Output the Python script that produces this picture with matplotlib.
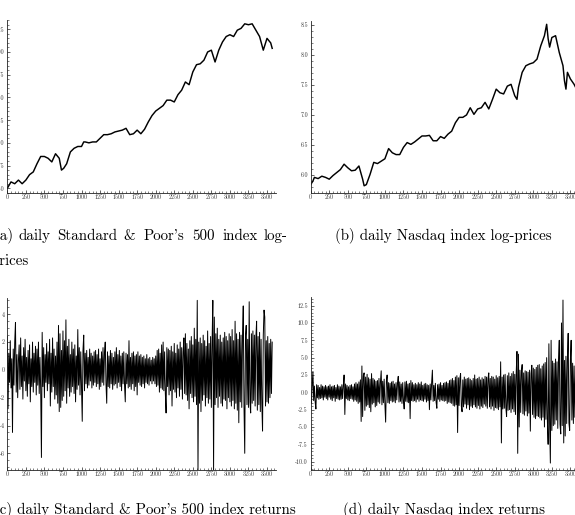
import numpy as np
import matplotlib
matplotlib.use("Agg")
import matplotlib.pyplot as plt
from matplotlib.ticker import FixedLocator, FixedFormatter, MultipleLocator

# ---------------- data ----------------
sp_days = [0, 50, 100, 150, 200, 250, 300, 350, 400, 450, 500, 550, 600, 650, 700,
           730, 760, 800, 850, 900, 950, 1000, 1030,
           1050, 1100, 1150, 1200, 1250, 1300, 1350, 1400, 1450, 1500, 1550, 1600, 1650,
           1700, 1750, 1800, 1850, 1900, 1950, 2000, 2050, 2100, 2150, 2200, 2250, 2300,
           2350, 2400, 2450, 2500, 2550, 2600, 2650, 2700, 2750, 2800, 2850, 2900, 2950,
           3000, 3050, 3100, 3150, 3200, 3250, 3300, 3350, 3400, 3450, 3500, 3550, 3570]
sp_logprice = [5.50, 5.57, 5.55, 5.59, 5.55, 5.59, 5.65, 5.68, 5.77, 5.85, 5.85, 5.83, 5.79, 5.88, 5.83,
               5.70, 5.72, 5.77, 5.90, 5.94, 5.96, 5.96, 6.01,
               6.01, 6.00, 6.01, 6.01, 6.05, 6.09, 6.09, 6.10, 6.12, 6.13, 6.14, 6.16, 6.09,
               6.10, 6.14, 6.10, 6.15, 6.23, 6.30, 6.35, 6.38, 6.41, 6.47, 6.47, 6.45, 6.53,
               6.58, 6.67, 6.64, 6.78, 6.86, 6.87, 6.91, 7.00, 7.02, 6.89, 7.02, 7.11, 7.17,
               7.19, 7.17, 7.24, 7.26, 7.31, 7.30, 7.31, 7.24, 7.17, 7.02, 7.15, 7.10, 7.04]

nq_days = [0, 30, 50, 100, 150, 200, 250, 300, 350, 400, 450, 500, 550, 600, 650, 700,
           720, 750, 800, 850, 900, 950, 1000, 1050, 1100, 1150, 1200, 1250, 1300, 1350,
           1400, 1450, 1500, 1550, 1600, 1650, 1700, 1750, 1800, 1850, 1900, 1950, 2000,
           2050, 2100, 2150, 2200, 2250, 2300, 2350, 2400, 2450, 2500, 2550, 2600, 2650,
           2700, 2750, 2780, 2800, 2850, 2900, 2950, 3000, 3050, 3100, 3150, 3180, 3200,
           3220, 3250, 3300, 3350, 3400, 3420, 3440, 3460, 3500, 3550, 3570]
nq_logprice = [5.84, 5.90, 5.96, 5.94, 5.98, 5.96, 5.93, 5.99, 6.04, 6.09, 6.18, 6.12, 6.07, 6.08, 6.15, 5.93,
               5.82, 5.84, 6.01, 6.21, 6.19, 6.23, 6.27, 6.44, 6.37, 6.34, 6.34, 6.46, 6.54, 6.51,
               6.55, 6.60, 6.65, 6.65, 6.66, 6.57, 6.57, 6.64, 6.61, 6.68, 6.73, 6.87, 6.96,
               6.96, 7.00, 7.12, 7.01, 7.10, 7.12, 7.21, 7.10, 7.26, 7.43, 7.37, 7.35, 7.48,
               7.51, 7.32, 7.26, 7.46, 7.71, 7.82, 7.85, 7.87, 7.93, 8.15, 8.32, 8.51, 8.27,
               8.13, 8.29, 8.32, 8.04, 7.82, 7.57, 7.43, 7.71, 7.60, 7.51, 7.46]

# returns sampled every 10 trading days (day = 10 * index), 20 values per row
return_step = 10
sp_returns = [
    2.4, -2.8, 1.2, -0.9, 2.1, -1.3, 0.8, -4.5, 1.5, -1.1, 2.0, 3.4, -1.6, 1.1, -2.0, 0.7, 1.8, -1.4, 2.3, -1.2,
    1.0, -2.1, 1.6, -0.8, 2.2, -1.5, 0.9, -1.9, 1.4, -1.0, 1.8, -2.3, 0.8, -1.2, 2.0, -1.6, 1.2, -0.9, 1.7, -1.8,
    1.5, -1.1, 2.0, -1.7, 0.9, -1.4, -6.3, 2.7, -1.2, 1.6, -2.0, 1.1, -0.9, 1.9, -1.5, 1.3, -1.0, 2.2, -2.6, 1.2,
    -1.6, 2.3, -1.2, 1.5, -2.1, 1.0, -1.8, 2.0, -2.4, 3.2, -3.0, 2.6, -2.7, 1.4, -2.2, 2.8, -1.9, 2.1, -1.5, 3.6,
    -2.4, 1.7, -1.3, 2.2, -1.9, 1.1, -1.6, 2.0, -1.2, 1.5, -1.7, 1.8, -2.3, 1.0, -1.4, 2.9, -1.1, 1.6, -1.8, 1.3,
    -1.2, -3.7, 1.4, 2.5, -1.5, 1.2, -1.0, 1.4, -1.3, 0.9, -1.1, 1.5, -0.8, 1.2, -1.3, 1.0, -1.1, 1.3, -0.9, 1.4,
    -1.2, 1.1, -1.0, 1.5, -1.4, 0.8, -1.2, 1.3, -0.9, 1.6, -1.1, 1.2, 2.0, -1.0, -2.4, 1.3, -1.2, 1.0, -1.3, 1.4,
    -1.0, 1.2, -1.4, 0.9, -1.1, 1.3, -1.0, 1.6, -1.3, 1.1, -0.9, 1.4, -1.2, 1.0, -1.5, 1.2, -1.0, 1.3, -1.1, -2.3,
    1.2, -1.0, 1.1, -1.3, 2.1, -1.2, 0.9, -1.4, 1.2, -1.0, 1.3, -1.5, 1.0, -1.2, 1.1, -1.8, 1.3, -0.9, 1.0, -1.1,
    1.1, -1.2, 0.9, -1.0, 1.0, -1.3, 0.8, -0.9, 1.1, -1.0, 0.8, -1.1, 0.9, -0.8, 0.7, -1.0, 0.9, -0.8, 0.8, -1.0,
    1.0, -1.2, 1.4, -1.1, 1.5, -1.6, 1.2, -1.3, 1.8, -1.4, 2.0, -1.5, 1.3, -1.7, -3.1, 1.6, -1.2, 1.5, -1.8, 1.4,
    -1.5, 1.7, -2.6, 1.3, -1.4, 1.9, -1.6, 1.2, -2.0, 1.8, -1.3, 1.5, -1.9, 2.0, -1.4, 1.6, -2.1, 1.3, 2.3, -1.7,
    2.6, -1.8, 1.9, -2.2, 1.5, -2.8, 2.1, -1.7, 2.4, -2.0, 1.8, -2.3, 3.0, -1.9, 2.2, -2.5, 5.0, -7.2, 2.0, -2.4,
    2.3, -3.0, 1.9, -2.2, 2.5, -1.8, 2.1, -2.6, 1.7, -2.0, 2.8, -2.4, 1.9, -2.1, 2.4, -2.7, 2.0, 5.0, -7.2, 3.8,
    -2.5, 2.6, -2.0, 3.0, -2.7, 2.2, -1.9, 2.5, -2.4, 2.0, -2.6, 2.3, -2.1, 2.7, -2.2, 2.4, -2.8, 2.1, -2.0, 2.6,
    -2.3, 2.4, -2.6, 2.9, -2.2, 2.1, -2.8, 3.5, -2.4, 2.6, -2.9, 2.2, -3.8, 2.7, -2.3, 2.5, -2.7, 2.4, 4.6, -2.6,
    -6.0, 2.4, 3.2, -2.5, 2.2, -2.7, 4.9, -2.3, -3.1, 2.6, -2.4, 2.8, -2.2, 2.5, -2.6, 2.3, 3.5, -2.9, 2.4, -2.5,
    2.7, -3.0, 2.2, -2.4, -4.4, 2.5, 4.3, 3.8, -2.6, 2.1, -2.3, 2.4, -2.4, 1.9, -2.0, 2.2, -1.7, 2.0]
nq_returns = [
    0.8, -1.6, 1.0, 3.0, -1.2, 0.9, -1.4, -2.4, 1.1, -0.8, 1.0, -1.0, 0.7, -0.9, 1.1, -0.8, 0.9, -1.1, 0.8, -0.7,
    1.0, -0.9, 0.8, -1.1, 0.9, -0.7, 1.1, -1.0, 0.8, -1.2, 0.9, -0.8, 1.0, -1.3, 0.7, -0.9, 1.1, -1.0, 0.9, -1.1,
    0.8, -1.0, 1.1, -0.9, 1.0, 2.5, -3.2, 1.2, -0.9, 1.0, -1.1, 0.8, -1.2, 1.0, -0.9, 1.1, -1.0, 0.8, -1.3, 1.2,
    -1.1, 1.4, -1.3, 1.2, -1.6, 1.5, -1.4, 1.8, -4.2, 3.8, -3.5, 2.4, 2.8, -2.6, 2.2, -2.0, 2.6, -1.8, 2.1, -2.2,
    1.9, -2.8, 2.7, -1.7, 2.0, -1.5, 1.8, -2.1, 1.6, -1.9, 1.7, -1.4, 2.0, -1.6, 1.5, 3.1, -1.8, 1.6, -1.5, 1.9,
    -1.7, -4.3, 1.6, 2.5, -1.5, 1.4, -1.6, 1.3, -1.2, 1.5, -1.4, 1.6, -1.3, 1.2, -1.5, 1.4, -1.1, 1.3, 2.3, -1.4,
    1.5, -1.3, 1.2, -1.6, 1.4, -1.2, -2.4, 1.5, -1.3, 1.6, -1.4, 1.2, -1.5, 1.3, -3.8, 1.7, -1.2, 1.4, -1.3, 1.1,
    -1.2, 1.3, -1.4, 1.1, -1.0, 1.4, -1.3, 1.2, -1.1, 1.5, -1.2, 1.0, -1.3, 1.2, -1.0, 1.3, -1.4, 1.1, -1.2, 1.0,
    -2.5, 1.2, -1.1, 1.4, 3.2, -1.3, 1.0, -1.2, 1.3, -1.4, -2.3, 1.1, -1.0, 1.2, -1.3, 1.4, -1.1, 1.0, -1.2, 1.3,
    -1.3, 1.4, -1.2, 1.5, -1.6, 1.3, -1.4, 1.7, -1.5, 1.8, -1.6, 2.0, -1.9, 1.7, -2.0, 2.2, -1.8, 2.4, -5.8, 2.1,
    -1.9, 2.0, 2.7, -2.0, -2.8, 1.8, -2.1, 2.2, -1.7, 1.9, -2.3, 2.0, -1.8, 2.1, -2.5, 1.9, -2.0, 1.7, -2.2, 2.0,
    -1.8, 2.5, -2.1, 1.9, -2.3, 2.0, -1.9, 2.2, -2.4, 1.8, -2.0, 2.1, -2.2, 1.9, -1.7, 2.3, -2.0, 2.2, -2.3, 2.0,
    2.8, -2.1, 2.0, -2.4, 2.3, -2.0, 2.2, -2.6, 1.9, -2.2, 2.4, -2.3, 2.1, -2.5, 2.3, -2.1, 4.4, -7.3, 2.2, -2.4,
    2.5, -2.3, 2.6, -2.2, -3.5, 2.4, -2.6, 2.8, -2.5, 2.3, -2.9, 2.7, -2.4, 3.0, -2.8, 2.6, -3.2, 2.9, 5.9, -8.8,
    5.5, -5.0, 3.2, -2.9, 3.0, 4.0, -3.1, 2.8, -3.3, 3.1, -2.7, 3.0, -3.4, 2.9, -3.0, 3.2, -5.6, 2.7, 3.9, -3.2,
    3.5, -3.6, 3.3, -3.8, 3.6, -3.4, 3.9, -3.5, 4.0, -3.7, 3.4, -4.0, 3.8, -3.6, 4.1, -5.0, 4.3, -3.9, 5.0, -4.2,
    -7.5, 7.0, -4.5, -10.2, 7.5, -5.5, 4.5, -4.8, 4.2, -4.6, 4.8, -4.0, 4.4, -5.2, 4.6, 7.5, -4.6, -6.0, 10.0, -4.8,
    13.3, -7.3, 4.6, -6.3, 5.2, -4.5, 4.8, 8.5, -4.4, -5.5, 4.6, 7.5, -4.0, 4.2, -4.5, 3.8, -3.6, 3.5]

x_ticks = [0, 250, 500, 750, 1000, 1250, 1500, 1750, 2000, 2250, 2500, 2750, 3000, 3250, 3500]
sp_price_ticks = [5.50, 5.75, 6.00, 6.25, 6.50, 6.75, 7.00, 7.25]
sp_price_labels = ["5.50", "5.75", "6.00", "6.25", "6.50", "6.75", "7.00", "7.25"]
nq_price_ticks = [6.0, 6.5, 7.0, 7.5, 8.0, 8.5]
nq_price_labels = ["6.0", "6.5", "7.0", "7.5", "8.0", "8.5"]
sp_ret_ticks = [-6, -4, -2, 0, 2, 4]
sp_ret_labels = ["-6", "-4", "-2", "0", "2", "4"]
nq_ret_ticks = [-10.0, -7.5, -5.0, -2.5, 0.0, 2.5, 5.0, 7.5, 10.0, 12.5]
nq_ret_labels = ["-10.0", "-7.5", "-5.0", "-2.5", "0.0", "2.5", "5.0", "7.5", "10.0", "12.5"]

# cmr10 maps the ASCII apostrophe to a typographic right quote
captions = {
    "a1": ["(a)", "daily", "Standard", "&", "Poor's", "500", "index", "log-"],
    "a2": "prices",
    "b": "(b) daily Nasdaq index log-prices",
    "c": "(c) daily Standard & Poor's 500 index returns",
    "d": "(d) daily Nasdaq index returns",
}

# ---------------- layout ----------------
W, H = 575, 515
fig = plt.figure(figsize=(W / 100, H / 100), dpi=100)
fig.patch.set_facecolor("white")

SERIF = "cmr10"
PXU = 0.0742  # pixels per day
XMAX = 3620


def add_ax(left, top, bottom):
    right = left + XMAX * PXU
    return fig.add_axes([left / W, 1 - bottom / H, (right - left) / W, (bottom - top) / H])


def style(ax, yticks, ylabels, ylim, yminor):
    ax.set_xlim(0, XMAX)
    ax.set_ylim(*ylim)
    for s in ("top", "right"):
        ax.spines[s].set_visible(False)
    for s in ("left", "bottom"):
        ax.spines[s].set_linewidth(0.6)
        ax.spines[s].set_color("#222222")
    ax.xaxis.set_major_locator(FixedLocator(x_ticks))
    ax.xaxis.set_major_formatter(FixedFormatter([str(t) for t in x_ticks]))
    ax.xaxis.set_minor_locator(MultipleLocator(50))
    ax.yaxis.set_major_locator(FixedLocator(yticks))
    ax.yaxis.set_major_formatter(FixedFormatter(ylabels))
    ax.yaxis.set_minor_locator(MultipleLocator(yminor))
    ax.tick_params(which="major", direction="in", length=2.2, width=0.5, color="#222222",
                   labelsize=4.3, labelfontfamily=SERIF, labelcolor="#333333")
    ax.tick_params(which="minor", direction="in", length=1.2, width=0.4, color="#222222")
    ax.tick_params(axis="x", pad=1.2)
    ax.tick_params(axis="y", pad=2.0)
    ax.set_facecolor("none")


ax_a = add_ax(7.3, 20, 193)
ax_a.plot(sp_days, sp_logprice, color="black", lw=1.05)
style(ax_a, sp_price_ticks, sp_price_labels, (5.448, 7.352), 0.05)

ax_b = add_ax(310.7, 20.7, 192.7)
ax_b.plot(nq_days, nq_logprice, color="black", lw=1.05)
style(ax_b, nq_price_ticks, nq_price_labels, (5.705, 8.57), 0.1)

ax_c = add_ax(7.3, 298, 470)
days_c = np.arange(len(sp_returns)) * return_step
ax_c.plot(days_c, sp_returns, color="black", lw=0.7)
style(ax_c, sp_ret_ticks, sp_ret_labels, (-7.2, 5.17), 0.5)

ax_d = add_ax(310.7, 297.3, 470)
days_d = np.arange(len(nq_returns)) * return_step
ax_d.plot(days_d, nq_returns, color="black", lw=0.7)
style(ax_d, nq_ret_ticks, nq_ret_labels, (-11.2, 13.7), 0.5)

# ---------------- captions ----------------
CAP = 10.8


def ftext(x, y, s, **kw):
    fig.text(x / W, 1 - y / H, s, fontsize=CAP, family=SERIF, va="baseline", color="black", **kw)


word_left = [-5.8, 18.3, 57.3, 123.3, 143.3, 192.7, 222.7, 263.3]
for wx, wd in zip(word_left, captions["a1"]):
    ftext(wx, 239.7, wd, ha="left")
ftext(-8.3, 264.5, captions["a2"], ha="left")
ftext(335, 239.7, captions["b"], ha="left")
ftext(-5.8, 514, captions["c"], ha="left")
ftext(343, 514, captions["d"], ha="left")

fig.savefig("out.png", dpi=100, facecolor="white")
